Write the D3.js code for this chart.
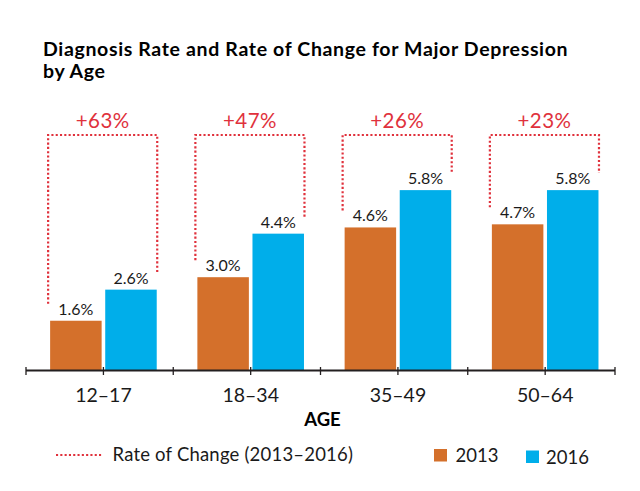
<!DOCTYPE html>
<html>
<head>
<meta charset="utf-8">
<script src="https://cdn.jsdelivr.net/npm/d3@7"></script>
<style>
  html, body { margin: 0; padding: 0; background: #fff; }
  svg { display: block; }
  text { font-family: Lato, "Open Sans", sans-serif; fill: #111; }
</style>
</head>
<body>
<svg id="chart" width="640" height="491"></svg>
<script>
// ---- data ----
const categories = ["12–17", "18–34", "35–49", "50–64"];
const years = ["2013", "2016"];
const values2013 = [1.6, 3.0, 4.6, 4.7];
const values2016 = [2.6, 4.4, 5.8, 5.8];
const changeLabels = ["+63%", "+47%", "+26%", "+23%"];
const titleLines = ["Diagnosis Rate and Rate of Change for Major Depression", "by Age"];
const axisTitle = "AGE";
const legendLine = "Rate of Change (2013–2016)";

// ---- style ----
const colors = { "2013": "#d4702b", "2016": "#00aeea" };
const red = "#e0313c";
const ink = "#231f20";

const svg = d3.select("#chart");
const W = 640, H = 491;
svg.append("rect").attr("width", W).attr("height", H).attr("fill", "#fff");

// ---- scales ----
const baseY = 370.5;
const x = d3.scaleBand().domain(categories).range([26, 615]);
const y = d3.scaleLinear().domain([0, 6]).range([baseY, baseY - 6 * 31.1]);
const barW = 51.5, gap = 3.6, shift = 3.8;
const center = c => x(c) + x.bandwidth() / 2 + shift;
const xy = d3.scaleOrdinal().domain(years).range([-gap / 2 - barW, gap / 2]);

const rows = categories.map((c, i) => ({
  cat: c, v: { "2013": values2013[i], "2016": values2016[i] }, change: changeLabels[i]
}));

// ---- title ----
svg.append("g").selectAll("text").data(titleLines).join("text")
  .attr("x", 43)
  .attr("y", (d, i) => 56 + i * 22)
  .attr("font-weight", 700)
  .attr("font-size", 19.5)
  .attr("letter-spacing", 0.65)
  .style("fill", "#000")
  .text(d => d);

// ---- bars ----
const g = svg.append("g");
rows.forEach(r => {
  years.forEach(yr => {
    g.append("rect")
      .attr("x", center(r.cat) + xy(yr))
      .attr("y", y(r.v[yr]))
      .attr("width", barW)
      .attr("height", y(0) - y(r.v[yr]))
      .attr("fill", colors[yr]);
    g.append("text")
      .attr("x", center(r.cat) + xy(yr) + barW / 2)
      .attr("y", y(r.v[yr]) - 6)
      .attr("text-anchor", "middle")
      .attr("font-size", 16)
      .attr("font-weight", 400)
      .style("fill", "#1a1a1a")
      .text(d3.format(".1f")(r.v[yr]) + "%");
  });
});

// ---- rate of change brackets ----
const topY = 135;
rows.forEach(r => {
  const lx = center(r.cat) + xy("2013") - 2;
  const rx = center(r.cat) + xy("2016") + barW + 0.5;
  const ly = y(r.v["2013"]) - 17;
  const ry = y(r.v["2016"]) - 17;
  g.append("path")
    .attr("d", d3.line()([[lx, ly], [lx, topY], [rx, topY], [rx, ry]]))
    .attr("fill", "none")
    .attr("stroke", red)
    .attr("stroke-width", 2.2)
    .attr("stroke-dasharray", "2.1 2.2");
  g.append("text")
    .attr("x", (lx + rx) / 2)
    .attr("y", 127.5)
    .attr("text-anchor", "middle")
    .attr("font-size", 20.5)
    .attr("font-weight", 400)
    .attr("letter-spacing", 0.4)
    .style("fill", red)
    .text(r.change);
});

// ---- axis ----
const ax = svg.append("g");
const [x0, x1] = x.range();
ax.append("line")
  .attr("x1", x0).attr("x2", x1).attr("y1", baseY).attr("y2", baseY)
  .attr("stroke", ink).attr("stroke-width", 2);
const sepTicks = categories.map(c => x(c)).concat([x1]);
ax.selectAll("line.sep").data(sepTicks).join("line")
  .attr("class", "sep")
  .attr("x1", d => d).attr("x2", d => d)
  .attr("y1", baseY - 3.5).attr("y2", baseY + 4.5)
  .attr("stroke", ink).attr("stroke-width", 1.3);
ax.selectAll("line.mid").data(categories).join("line")
  .attr("class", "mid")
  .attr("x1", d => center(d)).attr("x2", d => center(d))
  .attr("y1", baseY - 3.5).attr("y2", baseY + 4.5)
  .attr("stroke", ink).attr("stroke-width", 1.3);
ax.selectAll("text").data(categories).join("text")
  .attr("x", d => center(d))
  .attr("y", 401.5)
  .attr("text-anchor", "middle")
  .attr("font-size", 19.5)
  .attr("font-weight", 400)
  .style("fill", "#1a1a1a")
  .text(d => d);
svg.append("text")
  .attr("x", (x0 + x1) / 2 + 2)
  .attr("y", 426)
  .attr("text-anchor", "middle")
  .attr("font-size", 18.5)
  .attr("font-weight", 700)
  .style("fill", "#000")
  .text(axisTitle);

// ---- legend ----
const lg = svg.append("g");
lg.append("line")
  .attr("x1", 56).attr("x2", 102).attr("y1", 455).attr("y2", 455)
  .attr("stroke", red).attr("stroke-width", 2.2).attr("stroke-dasharray", "2.1 2.2");
lg.append("text")
  .attr("x", 112.5).attr("y", 461)
  .attr("font-size", 18.5).attr("font-weight", 400)
  .attr("letter-spacing", 0.2)
  .style("fill", "#1a1a1a")
  .text(legendLine);
const legendItems = [
  { yr: "2013", sx: 434, sy: 449, tx: 455.5, ty: 461.5 },
  { yr: "2016", sx: 526, sy: 450.5, tx: 546, ty: 463.5 }
];
legendItems.forEach(it => {
  lg.append("rect").attr("x", it.sx).attr("y", it.sy).attr("width", 13).attr("height", 12.5)
    .attr("fill", colors[it.yr]);
  lg.append("text").attr("x", it.tx).attr("y", it.ty)
    .attr("font-size", 18.5).attr("font-weight", 400)
    .style("fill", "#1a1a1a")
    .text(it.yr);
});
</script>
</body>
</html>
